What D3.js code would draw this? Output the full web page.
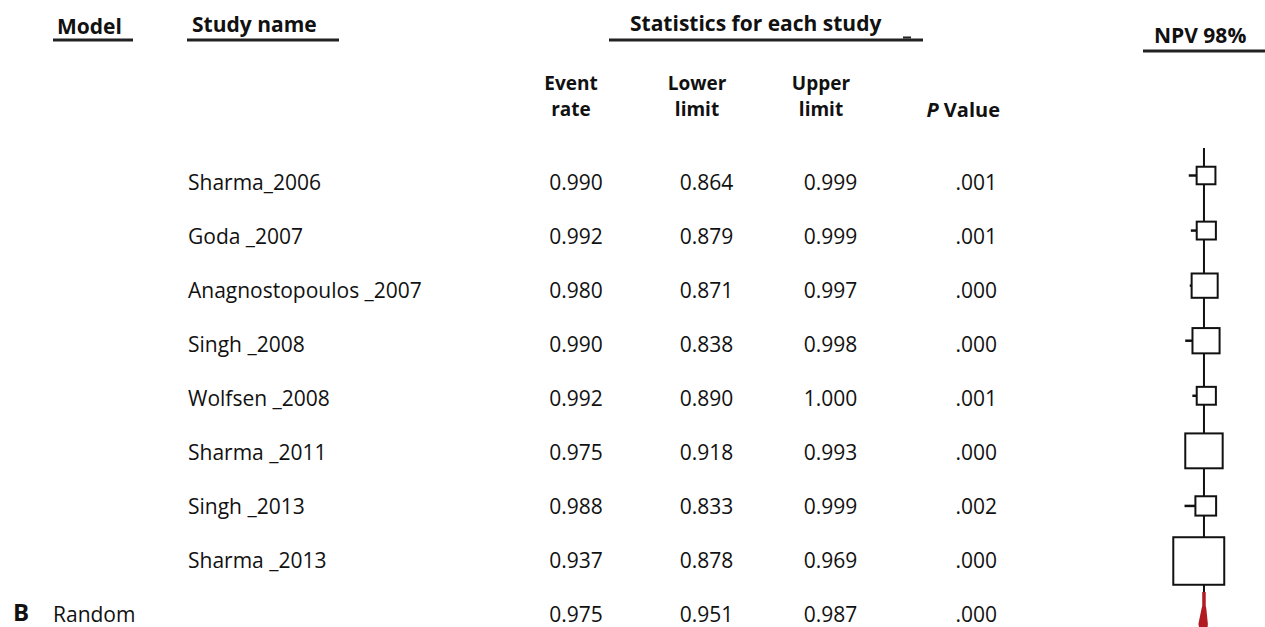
<!DOCTYPE html>
<html>
<head>
<meta charset="utf-8">
<script src="https://cdn.jsdelivr.net/npm/d3@7"></script>
<style>
  body { margin: 0; background: #fff; }
  text { font-family: "Open Sans", sans-serif; fill: #111; }
</style>
</head>
<body>
<div class="ForestPlot"></div>
<script>
// table data
const studies = ["Sharma_2006", "Goda _2007", "Anagnostopoulos _2007", "Singh _2008",
  "Wolfsen _2008", "Sharma _2011", "Singh _2013", "Sharma _2013"];
const eventRate = [0.990, 0.992, 0.980, 0.990, 0.992, 0.975, 0.988, 0.937];
const lowerLimit = [0.864, 0.879, 0.871, 0.838, 0.890, 0.918, 0.833, 0.878];
const upperLimit = [0.999, 0.999, 0.997, 0.998, 1.000, 0.993, 0.999, 0.969];
const pValue = [".001", ".001", ".000", ".000", ".001", ".000", ".002", ".000"];
// relative weights (box size)
const weights = [5.1, 5.3, 9.8, 10.6, 5.3, 20.2, 6.2, 37.5];

// pooled (random effects) row
const pooledModel = "B";
const pooledLabel = "Random";
const pooledStats = [0.975, 0.951, 0.987];
const pooledP = ".000";

const columnHeaders = [["Event", "rate"], ["Lower", "limit"], ["Upper", "limit"]];

const width = 1265, height = 627;
const fmt = d3.format(".3f");
const bodySize = 21;

const svg = d3.select(".ForestPlot").append("svg")
  .attr("width", width)
  .attr("height", height);

//row positions for table text (baselines) and for plot marks
const rowY = d3.scaleLinear().domain([0, 8]).range([190, 622]);
const plotY = d3.scaleLinear().domain([0, 7]).range([175.5, 561]);

//forest plot x scale (event rate)
const x = d3.scaleLinear().domain([0.8, 1.0]).range([1180, 1207.4]);
//box size from weight
const side = d3.scaleSqrt().domain([0, d3.max(weights)]).range([0, 49]);

//top headers
const topHeaders = [
  { t: "Model", x: 57, y: 34, u: [53, 133, 40] },
  { t: "Study name", x: 192, y: 32, u: [187, 339, 40] },
  { t: "Statistics for each study", x: 630, y: 31, u: [609, 923, 40] },
  { t: "NPV 98%", x: 1154, y: 43, u: [1143, 1265, 51] }
];
topHeaders.forEach(h => {
  svg.append("text")
    .attr("x", h.x).attr("y", h.y)
    .attr("font-size", 21)
    .attr("font-weight", "bold")
    .text(h.t);
  svg.append("line")
    .attr("x1", h.u[0]).attr("x2", h.u[1])
    .attr("y1", h.u[2]).attr("y2", h.u[2])
    .attr("stroke", "#222")
    .attr("stroke-width", 3);
});
//little dash near the end of the statistics underline
svg.append("line")
  .attr("x1", 903).attr("x2", 911)
  .attr("y1", 37.5).attr("y2", 37.5)
  .attr("stroke", "#222")
  .attr("stroke-width", 2);

//column headers (two lines)
const colHeadX = [571, 697, 821];
const colNumX = [576, 706.5, 830.5];
columnHeaders.forEach((lines, i) => {
  lines.forEach((l, j) => {
    svg.append("text")
      .attr("x", colHeadX[i])
      .attr("y", j === 0 ? 90 : 116)
      .attr("text-anchor", "middle")
      .attr("font-size", 19)
      .attr("font-weight", "bold")
      .text(l);
  });
});
const pHead = svg.append("text")
  .attr("x", 1000).attr("y", 117)
  .attr("text-anchor", "end")
  .attr("font-size", 20)
  .attr("font-weight", "bold");
pHead.append("tspan").attr("font-style", "italic").text("P");
pHead.append("tspan").text(" Value");

//study rows
const rows = svg.append("g").attr("class", "rows");
studies.forEach((s, i) => {
  const y = rowY(i);
  rows.append("text").attr("x", 188).attr("y", y).attr("font-size", bodySize).text(s);
  [eventRate[i], lowerLimit[i], upperLimit[i]].forEach((v, c) => {
    rows.append("text")
      .attr("x", colNumX[c]).attr("y", y)
      .attr("text-anchor", "middle")
      .attr("font-size", bodySize)
      .text(fmt(v));
  });
  rows.append("text")
    .attr("x", 997).attr("y", y)
    .attr("text-anchor", "end")
    .attr("font-size", bodySize)
    .text(pValue[i]);
});

//pooled row
svg.append("text")
  .attr("x", 13).attr("y", rowY(8) - 1)
  .attr("font-family", "Liberation Sans, Arial, sans-serif")
  .attr("font-size", 24)
  .attr("font-weight", "bold")
  .text(pooledModel);
svg.append("text").attr("x", 53).attr("y", rowY(8)).attr("font-size", bodySize).text(pooledLabel);
pooledStats.forEach((v, c) => {
  svg.append("text")
    .attr("x", colNumX[c]).attr("y", rowY(8))
    .attr("text-anchor", "middle")
    .attr("font-size", bodySize)
    .text(fmt(v));
});
svg.append("text")
  .attr("x", 997).attr("y", rowY(8))
  .attr("text-anchor", "end")
  .attr("font-size", bodySize)
  .text(pooledP);

//forest plot
const plot = svg.append("g").attr("class", "plot");

//vertical line through pooled estimate
plot.append("line")
  .attr("x1", x(pooledStats[0])).attr("x2", x(pooledStats[0]))
  .attr("y1", 148).attr("y2", height)
  .attr("stroke", "#111")
  .attr("stroke-width", 2);

//confidence interval whiskers
plot.selectAll(".ci")
  .data(studies)
  .join("line")
  .attr("class", "ci")
  .attr("x1", (d, i) => x(lowerLimit[i]))
  .attr("x2", (d, i) => x(upperLimit[i]))
  .attr("y1", (d, i) => plotY(i))
  .attr("y2", (d, i) => plotY(i))
  .attr("stroke", "#111")
  .attr("stroke-width", 2.5);

//weight boxes
plot.selectAll(".box")
  .data(studies)
  .join("rect")
  .attr("class", "box")
  .attr("x", (d, i) => x(eventRate[i]) - side(weights[i]) * 1.04 / 2)
  .attr("y", (d, i) => plotY(i) - side(weights[i]) * 0.97 / 2)
  .attr("width", (d, i) => side(weights[i]) * 1.04)
  .attr("height", (d, i) => side(weights[i]) * 0.97)
  .attr("fill", "#fff")
  .attr("stroke", "#111")
  .attr("stroke-width", 2);

//pooled diamond (cut at the bottom edge)
const dy = plotY(8) + 8, dh = 16;
plot.append("line")
  .attr("x1", x(pooledStats[0])).attr("x2", x(pooledStats[0]))
  .attr("y1", plotY(7) + 31).attr("y2", dy)
  .attr("stroke", "#b01c22")
  .attr("stroke-width", 3.5);
plot.append("path")
  .attr("d", d3.line()([
    [x(pooledStats[1]), dy],
    [x(pooledStats[0]), dy - dh],
    [x(pooledStats[2]), dy],
    [x(pooledStats[0]), dy + dh]
  ]) + "Z")
  .attr("fill", "#b01c22")
  .attr("stroke", "#b01c22")
  .attr("stroke-width", 4.5)
  .attr("stroke-linejoin", "round");
</script>
</body>
</html>
